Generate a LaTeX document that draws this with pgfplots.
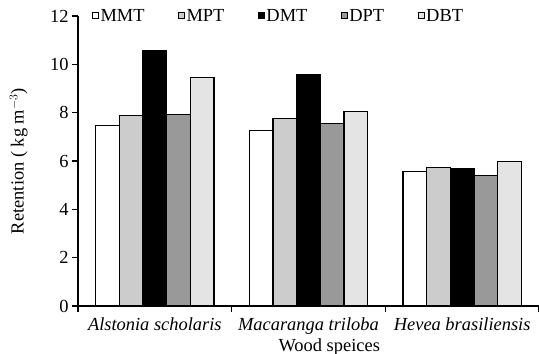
\documentclass[border=0pt]{standalone}
\usepackage{pgfplots}
\pgfplotsset{compat=1.18}
\usepackage{fontspec}
\setmainfont{Liberation Serif}
\definecolor{cMPT}{HTML}{CCCCCC}
\definecolor{cDPT}{HTML}{999999}
\definecolor{cDBT}{HTML}{E4E4E4}
\begin{document}
\begin{tikzpicture}
\begin{axis}[
  at={(0,0)}, anchor=south west,
  scale only axis, width=461bp, height=290bp,
  xmin=-0.5, xmax=2.5, ymin=0, ymax=12,
  axis x line*=bottom, axis y line*=left,
  axis line style={line width=1.3bp, -},
  ytick={0,2,4,6,8,10,12},
  xtick={-0.5,0.5,1.5,2.5}, xticklabels={},
  extra x ticks={0,1,2},
  extra x tick labels={\textit{Alstonia scholaris},\textit{Macaranga triloba},\textit{Hevea brasiliensis}},
  extra x tick style={major tick length=0pt, tick label style={yshift=-8bp}},
  tick align=outside, major tick length=6bp,
  tick style={line width=1.2bp, black},
  /pgf/number format/assume math mode=true,
  tick label style={font=\fontsize{18.5}{20}\selectfont},
  every axis y label/.style={at={(axis description cs:-0.129,0.5)}, rotate=90, anchor=center, font=\fontsize{18.5}{20}\selectfont},
  every axis x label/.style={at={(axis description cs:0.545,0)}, anchor=center, yshift=-41bp, font=\fontsize{18.5}{20}\selectfont},
  ylabel={Retention ( kg m$^{-3}$)},
  xlabel={Wood speices},
  bar width=0.154,
  legend columns=5,
  legend image code/.code={\draw[#1, line width=1bp] (0bp,-3bp) rectangle (6bp,3bp);},
  legend style={at={(axis description cs:0.03,1)}, anchor=west, draw=none, fill=none,
    font=\fontsize{18.5}{20}\selectfont, inner sep=0pt,
    nodes={inner xsep=1.5bp, inner ysep=0pt},
    /tikz/every even column/.append style={column sep=32bp}},
  every axis plot/.append style={draw=black, line width=1.1bp},
]
\addplot[ybar, bar shift=-0.308, fill=white] coordinates {(0,7.46) (1,7.25) (2,5.57)};
\addlegendentry{MMT}
\addplot[ybar, bar shift=-0.154, fill=cMPT] coordinates {(0,7.89) (1,7.77) (2,5.74)};
\addlegendentry{MPT}
\addplot[ybar, bar shift=0, fill=black] coordinates {(0,10.56) (1,9.56) (2,5.68)};
\addlegendentry{DMT}
\addplot[ybar, bar shift=0.154, fill=cDPT] coordinates {(0,7.94) (1,7.56) (2,5.41)};
\addlegendentry{DPT}
\addplot[ybar, bar shift=0.308, fill=cDBT] coordinates {(0,9.45) (1,8.04) (2,5.99)};
\addlegendentry{DBT}
\end{axis}
\pgfresetboundingbox
\useasboundingbox (-78bp,-48bp) rectangle (461bp,306bp);
\end{tikzpicture}
\end{document}
